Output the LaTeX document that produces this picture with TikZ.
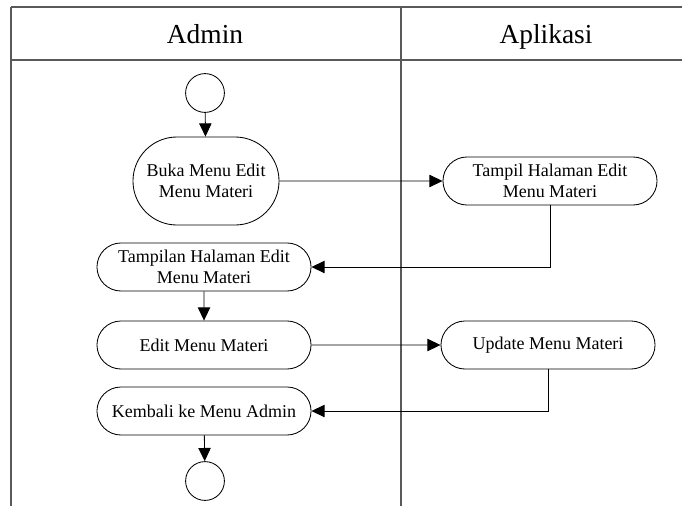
\documentclass[tikz,border=0pt]{standalone}
\usepackage{fontspec}
\setmainfont{Liberation Serif}
\usepackage{tikz}
\usetikzlibrary{arrows.meta,shapes.misc}

\begin{document}
\begin{tikzpicture}[x=0.025cm,y=-0.025cm,>={Triangle[length=0.33cm,width=0.31cm]},
  lane/.style={draw=black!65,line width=0.8pt},
  lanetitle/.style={anchor=base,font=\fontsize{19.5}{23}\selectfont},
  act/.style={draw,rounded rectangle,line width=0.6pt,align=center,inner sep=0pt,
    minimum width=5.35cm,minimum height=1.2cm,font=\fontsize{12.8}{14.8}\selectfont},
  dot/.style={draw,circle,line width=0.6pt,minimum size=0.97cm,inner sep=0pt},
  flow/.style={->,line width=0.6pt}]
\useasboundingbox (0,0) rectangle (682,506);
% swimlanes
\draw[lane](11,7)--(682,7);
\draw[lane](11,60)--(682,60);
\draw[lane](11,7)--(11,506);
\draw[lane](401,7)--(401,506);
\node[lanetitle] (admin) at (205,43) {Admin};
\node[lanetitle] (aplikasi) at (546,43) {Aplikasi};
% activities
\node[dot] (start) at (205,93) {};
\node[act,minimum width=3.65cm,minimum height=2.2cm] (buka) at (206,181) {Buka Menu Edit\\Menu Materi};
\node[act] (tampil) at (550,181) {Tampil Halaman Edit\\Menu Materi};
\node[act] (tampilan) at (204,267) {Tampilan Halaman Edit\\Menu Materi};
\node[act] (edit) at (204,345) {Edit Menu Materi};
\node[act] (update) at (548,345) {Update Menu Materi};
\node[act] (kembali) at (204,411) {Kembali ke Menu Admin};
\node[dot] (stop) at (205,481) {};
% flows
\draw[flow](start)--(buka);
\draw[flow](buka)--(tampil);
\draw[flow](tampil.south)|-(tampilan.east);
\draw[flow](tampilan)--(edit);
\draw[flow](edit)--(update);
\draw[flow](update.south)|-(kembali.east);
\draw[flow](kembali)--(stop);
\end{tikzpicture}
\end{document}
